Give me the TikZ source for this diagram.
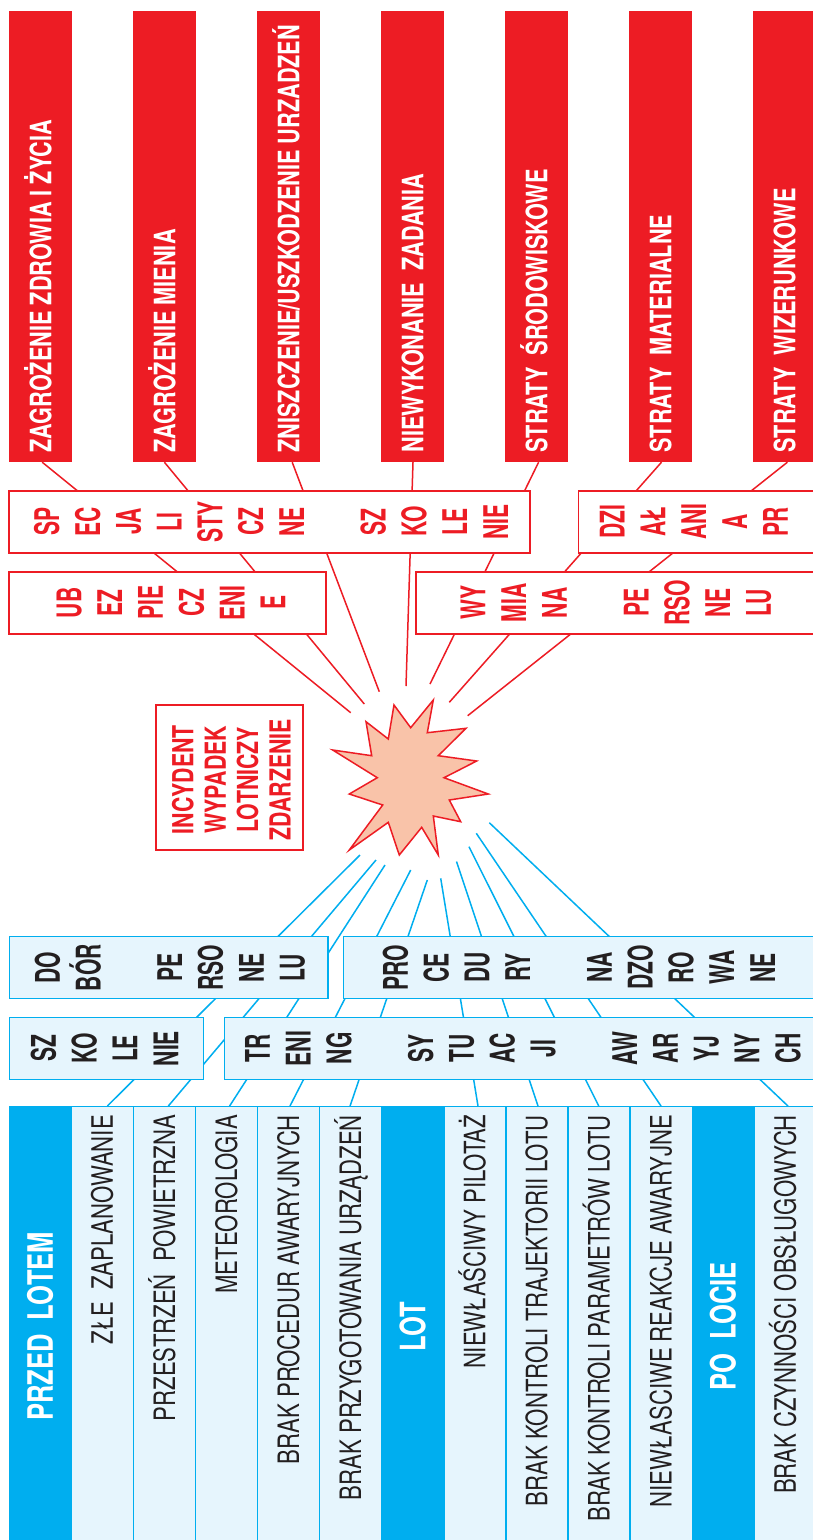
\documentclass[tikz,border=0pt]{standalone}
\usepackage{fontspec}
\newfontfamily\colfont[FakeStretch=0.735]{TeX Gyre Heros}
\newfontfamily\boxfont[FakeStretch=0.62]{TeX Gyre Heros}
\newfontfamily\botfont[FakeStretch=0.75]{TeX Gyre Heros}
\newfontfamily\darkfont[FakeStretch=0.73]{TeX Gyre Heros}
\definecolor{cR}{HTML}{ED1C24}
\definecolor{cB}{HTML}{00AEEF}
\definecolor{cL}{HTML}{E6F5FD}
\definecolor{cS}{HTML}{F9C3A9}
\definecolor{cK}{HTML}{231F20}
\tikzset{
  redcol/.style={fill=cR, draw=none, inner sep=0, minimum width=63pt, minimum height=451pt},
  redlabel/.style={rotate=90, anchor=west, inner sep=0, text height=21.2pt, text depth=0pt, text=white, font=\colfont\bfseries\fontsize{29.5}{32}\selectfont},
  rline/.style={draw=cR, line width=1.5pt},
  bline/.style={draw=cB, line width=1.5pt},
  rbox/.style={draw=cR, line width=1.8pt, fill=white, inner sep=0},
  bbox/.style={draw=cB, line width=1.5pt, fill=cL, inner sep=0},
  rtext/.style={rotate=90, align=center, inner sep=0, text=cR, font=\boxfont\bfseries\fontsize{34}{40.8}\selectfont},
  btext/.style={rtext, text=cK},
  inctext/.style={rotate=90, align=center, inner sep=0, text=cR, font=\colfont\bfseries\fontsize{29}{32.4}\selectfont},
  botcol/.style={inner sep=0, minimum width=62.08pt, minimum height=438.3pt, line width=1.3pt, draw=cB},
  botlight/.style={botcol, fill=cL},
  botdark/.style={botcol, fill=cB},
  botlabel/.style={rotate=90, anchor=east, inner sep=0, text height=21pt, text depth=0pt, text=cK, font=\botfont\fontsize{29.5}{32}\selectfont},
  darklabel/.style={rotate=90, inner sep=0, text height=25pt, text depth=0pt, text=white, font=\darkfont\bfseries\fontsize{35}{38}\selectfont},
  starshape/.style={draw=cR, line width=1.5pt, fill=cS}
}
\begin{document}
\begin{tikzpicture}[x=1pt,y=-1pt]
\clip (0,0) rectangle (813,1540);
\fill[white] (0,0) rectangle (813,1540);
% ---- top red columns
\node[redcol] (c1) at (40.8,236.5) {};
\node[redcol] (c2) at (164.8,236.5) {};
\node[redcol] (c3) at (288.8,236.5) {};
\node[redcol] (c4) at (412.8,236.5) {};
\node[redcol] (c5) at (536.8,236.5) {};
\node[redcol] (c6) at (660.8,236.5) {};
\node[redcol] (c7) at (784.8,236.5) {};
% ---- bottom columns
\node[botdark]  (b1)  at (40.34,1325.85) {};
\node[botlight] (b2)  at (102.42,1325.85) {};
\node[botlight] (b3)  at (164.50,1325.85) {};
\node[botlight] (b4)  at (226.58,1325.85) {};
\node[botlight] (b5)  at (288.66,1325.85) {};
\node[botlight] (b6)  at (350.74,1325.85) {};
\node[botdark]  (b7)  at (412.82,1325.85) {};
\node[botlight] (b8)  at (474.90,1325.85) {};
\node[botlight] (b9)  at (536.98,1325.85) {};
\node[botlight] (b10) at (599.06,1325.85) {};
\node[botlight] (b11) at (661.14,1325.85) {};
\node[botdark]  (b12) at (723.22,1325.85) {};
\node[botlight] (b13) at (785.30,1325.85) {};
% ---- connector ends near the star
\coordinate (r1) at (350.7,712.7);
\coordinate (r2) at (364.3,704);
\coordinate (r3) at (379.3,691.7);
\coordinate (r4) at (406,686);
\coordinate (r5) at (430,684);
\coordinate (r6) at (449.3,702.3);
\coordinate (r7) at (467.7,715.7);
\coordinate (q1) at (360,855);
\coordinate (q2) at (376,860);
\coordinate (q3) at (385,865);
\coordinate (q4) at (410.7,870);
\coordinate (q5) at (427.3,880);
\coordinate (q6) at (440.7,878.3);
\coordinate (q7) at (456.5,861.5);
\coordinate (q8) at (469,846.7);
\coordinate (q9) at (476.3,833.3);
\coordinate (q10) at (489.3,822.7);
% ---- red connectors
\draw[rline] ([xshift=1.4pt]c1.south) -- (r1);
\draw[rline] ([xshift=-0.4pt]c2.south) -- (r2);
\draw[rline] ([xshift=3.4pt]c3.south) -- (r3);
\draw[rline] ([xshift=0.2pt]c4.south) -- (r4);
\draw[rline] ([xshift=1.8pt]c5.south) -- (r5);
\draw[rline] ([xshift=0.7pt]c6.south) -- (r6);
\draw[rline] ([xshift=2.6pt]c7.south) -- (r7);
% ---- blue connectors
\draw[bline] ([xshift=4.9pt]b2.north) -- (q1);
\draw[bline] ([xshift=3.8pt]b3.north) -- (q2);
\draw[bline] ([xshift=3pt]b4.north) -- (q3);
\draw[bline] ([xshift=1.3pt]b5.north) -- (q4);
\draw[bline] ([xshift=-0.7pt]b6.north) -- (q5);
\draw[bline] ([xshift=3.1pt]b8.north) -- (q6);
\draw[bline] ([xshift=1pt]b9.north) -- (q7);
\draw[bline] ([xshift=-0.3pt]b10.north) -- (q8);
\draw[bline] ([xshift=-0.1pt]b11.north) -- (q9);
\draw[bline] ([xshift=2.7pt]b13.north) -- (q10);
% ---- red boxes
\node[rbox, minimum width=520.5pt, minimum height=62pt] (bA) at (269.55,521.7) {};
\node[rbox, minimum width=251.5pt, minimum height=62pt] (bB) at (704.25,521.7) {};
\node[rbox, minimum width=316.3pt, minimum height=62.3pt] (bC) at (167.45,602.85) {};
\node[rbox, minimum width=414.2pt, minimum height=62.3pt] (bD) at (622.9,602.85) {};
% ---- blue boxes
\node[bbox, minimum width=318.7pt, minimum height=62pt] (bE) at (168.65,967.7) {};
\node[bbox, minimum width=486.3pt, minimum height=62pt] (bF) at (586.85,967.7) {};
\node[bbox, minimum width=194.4pt, minimum height=61.6pt] (bG) at (106.5,1048.5) {};
\node[bbox, minimum width=605.5pt, minimum height=61.6pt] (bH) at (527.25,1048.5) {};
% ---- incident box and star
\node[rbox, minimum width=147.3pt, minimum height=145pt] (inc) at (229.65,777.5) {};
\draw[starshape] (394,705) -- (410.7,727.7) -- (433.3,700) -- (427.3,732.7) -- (466,728.3)
  -- (438.3,755.7) -- (476.7,761) -- (444,777.7) -- (488.3,794) -- (449.3,800)
  -- (460.7,821.7) -- (433.3,816) -- (438.3,855) -- (421.7,827.3) -- (399.3,855)
  -- (388.3,822.3) -- (349.3,850) -- (382.7,805) -- (349.3,794) -- (377.3,777.7)
  -- (332.7,750) -- (371.7,755.7) -- (366,721.7) -- (388.3,739) -- cycle;
% ---- texts: red columns
\node[redlabel] (l1) at (40.8,452.7) {ZAGROŻENIE ZDROWIA I ŻYCIA};
\node[redlabel] (l2) at (164.8,452.7) {ZAGROŻENIE MIENIA};
\node[redlabel] (l3) at (288.8,452.7) {ZNISZCZENIE/USZKODZENIE URZADZEŃ};
\node[redlabel] (l4) at (412.8,452.7) {NIEWYKONANIE\ \ ZADANIA};
\node[redlabel] (l5) at (536.8,452.7) {STRATY\ \ ŚRODOWISKOWE};
\node[redlabel] (l6) at (660.8,452.7) {STRATY\ \ MATERIALNE};
\node[redlabel] (l7) at (784.8,452.7) {STRATY\ \ WIZERUNKOWE};
% ---- texts: red boxes
\node[rtext] (tA) at (271,521.7) {SP\\EC\\JA\\LI\\STY\\CZ\\NE\\[40.8pt]SZ\\KO\\LE\\NIE};
\node[rtext] (tB) at (693.8,521.7) {DZI\\AŁ\\ANI\\A\\PR};
\node[rtext] (tC) at (171,602.85) {UB\\EZ\\PIE\\CZ\\ENI\\E};
\node[rtext] (tD) at (616,602.85) {WY\\MIA\\NA\\[40.8pt]PE\\RSO\\NE\\LU};
\node[inctext] (tI) at (231.3,779.7) {INCYDENT\\WYPADEK\\LOTNICZY\\ZDARZENIE};
% ---- texts: blue boxes
\node[btext] (tE) at (169.8,967.7) {DO\\BÓR\\[40.8pt]PE\\RSO\\NE\\LU};
\node[btext] (tF) at (578.8,967.7) {PRO\\CE\\DU\\RY\\[40.8pt]NA\\DZO\\RO\\WA\\NE};
\node[btext] (tG) at (104.5,1048.5) {SZ\\KO\\LE\\NIE};
\node[btext] (tH) at (522.9,1048.5) {TR\\ENI\\NG\\[40.8pt]SY\\TU\\AC\\JI\\[40.8pt]AW\\AR\\YJ\\NY\\CH};
% ---- texts: bottom columns
\node[darklabel] (t1) at (40.34,1326.5) {PRZED\ \ LOTEM};
\node[botlabel] (t2) at (102.42,1115) {ZŁE\ \ ZAPLANOWANIE};
\node[botlabel] (t3) at (164.5,1115) {PRZESTRZEŃ\ \ POWIETRZNA};
\node[botlabel] (t4) at (226.58,1115) {METEOROLOGIA};
\node[botlabel] (t5) at (288.66,1115) {BRAK PROCEDUR AWARYJNYCH};
\node[botlabel] (t6) at (350.74,1115) {BRAK PRZYGOTOWANIA URZĄDZEŃ};
\node[darklabel] (t7) at (412.82,1326.5) {LOT};
\node[botlabel] (t8) at (474.9,1115) {NIEWŁAŚCIWY PILOTAŻ};
\node[botlabel] (t9) at (536.98,1115) {BRAK KONTROLI TRAJEKTORII LOTU};
\node[botlabel] (t10) at (599.06,1115) {BRAK KONTROLI PARAMETRÓW LOTU};
\node[botlabel] (t11) at (661.14,1115) {NIEWŁASCIWE REAKCJE AWARYJNE};
\node[darklabel] (t12) at (723.22,1326.5) {PO\ \ LOCIE};
\node[botlabel] (t13) at (785.3,1115) {BRAK CZYNNOŚCI OBSŁUGOWYCH};
\end{tikzpicture}
\end{document}
